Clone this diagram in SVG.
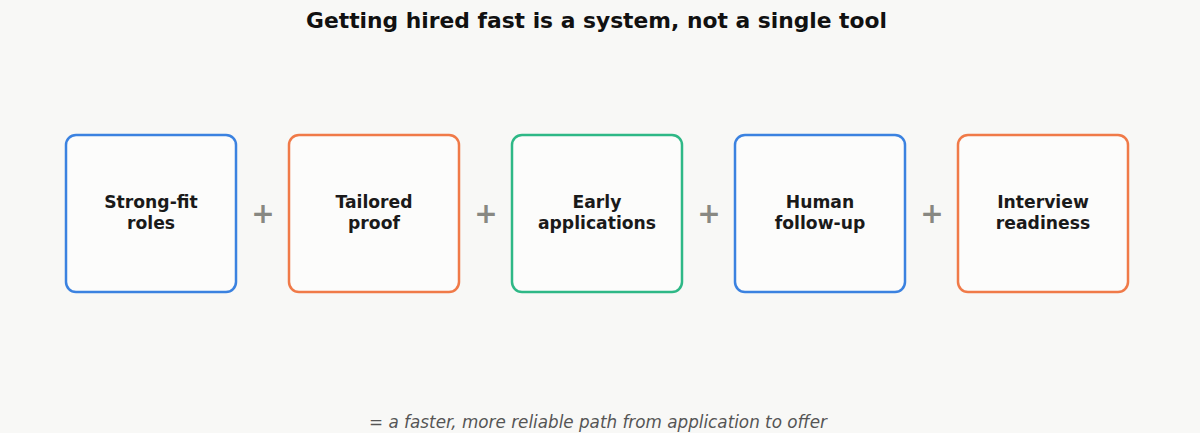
<svg xmlns="http://www.w3.org/2000/svg" width="1200" height="433" viewBox="0 0 1200 433">
<style>
.box{fill:#fcfcfb;stroke-width:2.5}
.blue{stroke:#3b82e0}
.orange{stroke:#f07a48}
.green{stroke:#2eb886}
.lbl{font-family:"DejaVu Sans",sans-serif;font-weight:bold;font-size:17.2px;fill:#1a1a1a;text-anchor:middle}
.plus{font-family:"DejaVu Sans",sans-serif;font-weight:bold;font-size:28px;fill:#888882;text-anchor:middle}
</style>
<rect width="1200" height="433" fill="#f8f8f6"/>
<text x="596.5" y="28" font-family="DejaVu Sans, sans-serif" font-weight="bold" font-size="21.8" fill="#111" text-anchor="middle">Getting hired fast is a system, not a single tool</text>
<g id="node1"><rect class="box blue" x="66" y="135" width="170" height="157" rx="10"/><text class="lbl" x="151" y="208">Strong-fit</text><text class="lbl" x="151" y="229">roles</text></g>
<g id="node2"><rect class="box orange" x="289" y="135" width="170" height="157" rx="10"/><text class="lbl" x="374" y="208">Tailored</text><text class="lbl" x="374" y="229">proof</text></g>
<g id="node3"><rect class="box green" x="512" y="135" width="170" height="157" rx="10"/><text class="lbl" x="597" y="208">Early</text><text class="lbl" x="597" y="229">applications</text></g>
<g id="node4"><rect class="box blue" x="735" y="135" width="170" height="157" rx="10"/><text class="lbl" x="820" y="208">Human</text><text class="lbl" x="820" y="229">follow-up</text></g>
<g id="node5"><rect class="box orange" x="958" y="135" width="170" height="157" rx="10"/><text class="lbl" x="1043" y="208">Interview</text><text class="lbl" x="1043" y="229">readiness</text></g>
<g id="connectors">
<text class="plus" x="263" y="223">+</text>
<text class="plus" x="486" y="223">+</text>
<text class="plus" x="709" y="223">+</text>
<text class="plus" x="932" y="223">+</text>
</g>
<text x="598" y="428" font-family="DejaVu Sans, sans-serif" font-style="italic" font-size="16.8" fill="#555" text-anchor="middle">= a faster, more reliable path from application to offer</text>
</svg>
